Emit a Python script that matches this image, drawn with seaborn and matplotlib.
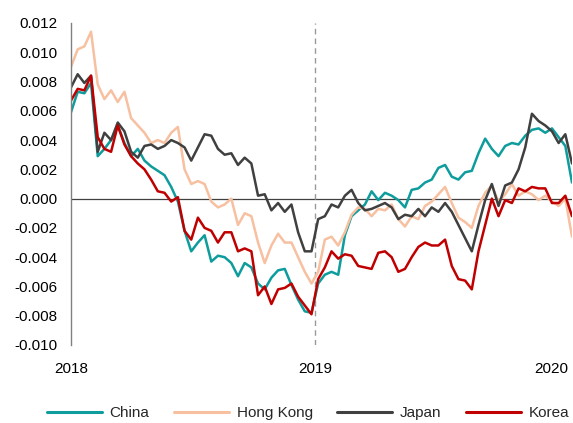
import numpy as np
import pandas as pd
import matplotlib
matplotlib.use("Agg")
import matplotlib.pyplot as plt
import matplotlib.transforms as mtransforms
import seaborn as sns

# ---- data (values in units of 0.001) ----
dates = pd.date_range("2018-01-01", periods=76, freq="10D")

china = [5.9, 7.3, 7.2, 7.9, 2.9, 3.4, 4.0, 5.0, 3.8, 2.9,
         3.4, 2.6, 2.2, 1.9, 1.6, 0.8, -0.2, -2.2, -3.6, -3.0,
         -2.5, -4.3, -3.9, -4.0, -4.4, -5.3, -4.4, -4.7, -5.8, -6.2,
         -5.4, -4.9, -4.8, -5.9, -6.9, -7.7, -7.8, -5.8, -5.2, -5.0,
         -5.2, -2.5, -1.2, -0.8, -0.4, 0.5, -0.1, 0.4, 0.2, -0.1,
         -0.6, 0.6, 0.7, 1.1, 1.3, 2.1, 2.3, 1.5, 1.3, 1.8,
         1.9, 3.1, 4.1, 3.4, 2.9, 3.6, 3.8, 3.7, 4.3, 4.7,
         4.8, 4.5, 4.8, 4.2, 3.6, 1.1]

hong_kong = [9.0, 10.2, 10.4, 11.4, 7.8, 6.8, 7.4, 6.6, 7.3, 5.5,
             5.0, 4.5, 3.8, 4.0, 3.8, 4.5, 4.9, 2.0, 1.0, 1.2,
             1.0, -0.2, -0.6, -0.4, 0.0, -1.8, -1.0, -1.2, -3.0, -4.4,
             -3.2, -2.4, -3.0, -3.0, -4.0, -5.0, -5.8, -5.0, -2.8, -2.6,
             -3.2, -2.3, -1.1, -0.6, -0.7, -1.2, -0.7, -0.8, -0.4, -1.4,
             -1.9, -1.2, -1.4, -0.5, -0.2, 0.3, 0.8, -0.3, -1.3, -1.6,
             -2.0, -0.5, 0.4, 0.9, -0.2, 0.3, 1.0, 0.2, 0.5, 0.3,
             -0.1, 0.2, -0.2, -0.5, 0.0, -2.6]

japan = [7.6, 8.5, 7.9, 8.4, 3.2, 4.5, 4.0, 5.2, 4.6, 3.2,
         2.8, 3.6, 3.7, 3.4, 3.6, 4.0, 3.8, 3.5, 2.6, 3.5,
         4.4, 4.3, 3.4, 3.0, 3.1, 2.3, 2.8, 2.4, 0.2, 0.3,
         -0.8, -0.3, -0.9, -0.4, -2.3, -3.6, -3.6, -1.4, -1.2, -0.4,
         -0.6, 0.2, 0.6, -0.3, -0.8, -0.7, -0.5, -0.3, -0.6, -1.4,
         -1.1, -1.2, -0.7, -1.2, -0.6, -0.9, -0.3, -0.9, -1.8, -2.7,
         -3.6, -1.8, -0.1, 1.0, -0.5, 0.9, 1.1, 2.0, 3.5, 5.8,
         5.3, 5.0, 4.6, 3.8, 4.4, 2.4]

korea = [6.7, 7.5, 7.4, 8.4, 4.2, 3.4, 3.2, 5.0, 3.7, 2.9,
         2.4, 2.0, 1.3, 0.5, 0.4, -0.2, 0.1, -2.2, -2.8, -1.3,
         -2.0, -2.2, -3.0, -2.3, -2.3, -3.6, -3.4, -3.6, -6.6, -6.0,
         -7.2, -6.2, -6.1, -5.8, -6.7, -7.3, -7.9, -5.5, -4.7, -3.6,
         -4.1, -3.8, -3.9, -4.6, -4.7, -4.8, -3.7, -3.6, -4.0, -5.0,
         -4.8, -4.0, -3.3, -3.0, -3.2, -3.2, -2.8, -4.6, -5.5, -5.6,
         -6.2, -3.6, -1.8, 0.0, -1.2, -0.1, -0.3, 0.7, 0.5, 0.8,
         0.7, 0.7, -0.3, -0.3, 0.2, -1.2]

series_names = ["China", "Hong Kong", "Japan", "Korea"]
colors = ["#0E9C9C", "#F7C0A0", "#404040", "#C00000"]
year_ticks = ["2018-01-01", "2019-01-01", "2020-01-01"]
year_labels = ["2018", "2019", "2020"]
y_ticks = [-0.010, -0.008, -0.006, -0.004, -0.002, 0.000,
           0.002, 0.004, 0.006, 0.008, 0.010, 0.012]

frames = []
for name, vals in zip(series_names, [china, hong_kong, japan, korea]):
    frames.append(pd.DataFrame({"date": dates,
                                "value": np.array(vals) / 1000.0,
                                "series": name}))
df = pd.concat(frames, ignore_index=True)

sns.set_theme(style="white")
plt.rcParams["font.family"] = ["Liberation Sans", "DejaVu Sans"]

fig = plt.figure(figsize=(5.73, 4.23), dpi=100)
ax = fig.add_axes([71 / 573, 1 - 345 / 423, (572 - 71) / 573, (345 - 23) / 423])

sns.lineplot(data=df, x="date", y="value", hue="series",
             hue_order=series_names, palette=colors, linewidth=1.8,
             ax=ax, legend=False)

ax.axhline(0, color="#404040", linewidth=0.9, zorder=0)
ax.axvline(pd.Timestamp("2019-01-01"), color="#999999", linewidth=1.0,
           linestyle=(0, (4, 3)), zorder=0)

ax.set_ylim(-0.010, 0.012)
ax.set_xlim(dates[0], dates[-1])
ax.set_yticks(y_ticks)
ax.set_yticklabels([f"{v:.3f}" for v in y_ticks])
ax.set_xticks([pd.Timestamp(d) for d in year_ticks])
ax.set_xticklabels(year_labels)
ax.tick_params(axis="both", length=0, labelsize=11, colors="#000000")
ax.tick_params(axis="y", pad=10)
ax.tick_params(axis="x", pad=12)
ax.set_xlabel("")
ax.set_ylabel("")

# keep the last year label inside the figure
last_lbl = ax.get_xticklabels()[-1]
last_lbl.set_transform(last_lbl.get_transform() +
                       mtransforms.ScaledTranslation(-7 / 100, 0, fig.dpi_scale_trans))

for s in ["top", "right", "bottom"]:
    ax.spines[s].set_visible(False)
ax.spines["left"].set_color("#808080")
ax.spines["left"].set_linewidth(1.0)

handles = [plt.Line2D([], [], color=c, linewidth=2.2) for c in colors]
fig.legend(handles, series_names, loc="center", ncol=4, frameon=False,
           bbox_to_anchor=(308 / 573, 1 - 413 / 423), fontsize=11,
           handlelength=3.6, columnspacing=1.6, handletextpad=0.5,
           borderpad=0.2, borderaxespad=0)

fig.savefig("out.png", dpi=100)
